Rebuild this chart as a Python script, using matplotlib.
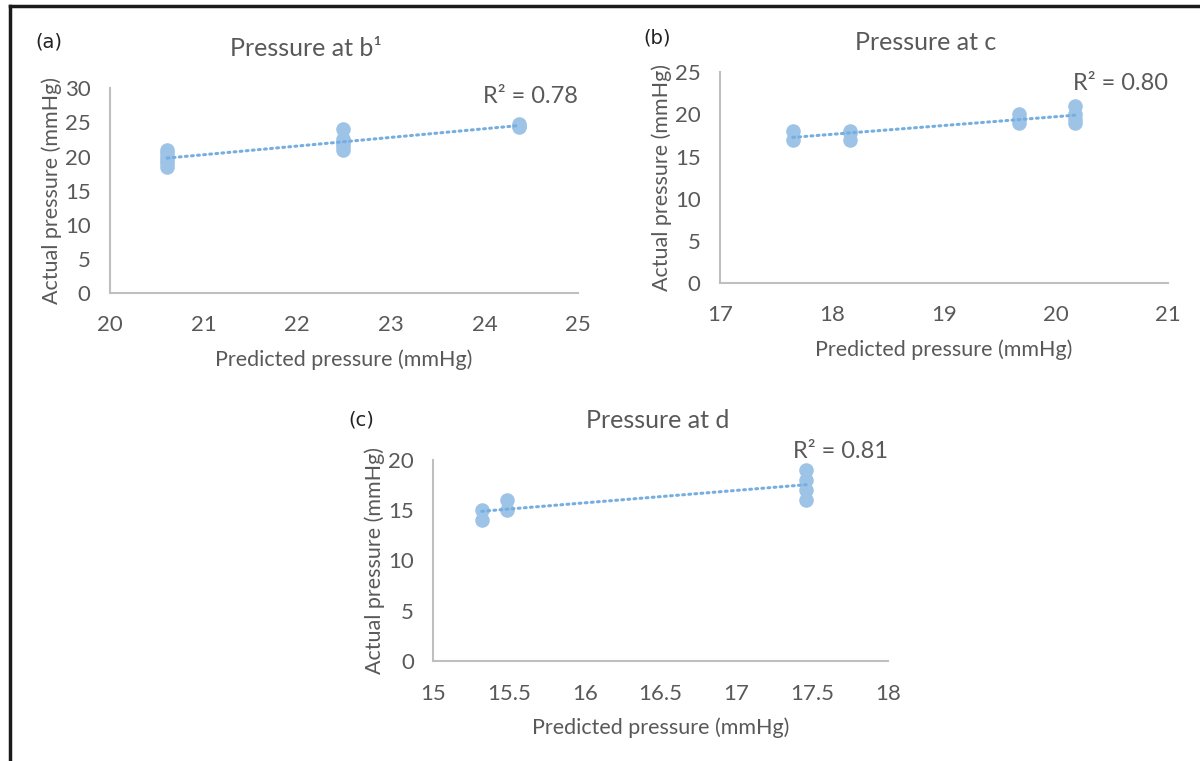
import numpy as np
import matplotlib.pyplot as plt
from matplotlib.lines import Line2D

plt.rcParams['font.family'] = ['Lato', 'DejaVu Sans']

# panel (a): pressure at b1
a_x = [20.61, 20.61, 20.61, 20.61, 20.61, 20.61, 22.49, 22.49, 22.49, 22.49, 22.49, 24.37, 24.37, 24.37]
a_y = [18.5, 19.0, 19.5, 20.0, 20.5, 21.0, 24.0, 22.5, 22.0, 21.5, 21.0, 24.3, 24.7, 24.5]
a_r2 = "0.78"

# panel (b): pressure at c
b_x = [17.65, 17.65, 18.16, 18.16, 18.16, 19.67, 19.67, 19.67, 20.17, 20.17, 20.17, 20.17]
b_y = [18.0, 17.0, 18.0, 17.8, 17.0, 20.0, 19.5, 19.0, 21.0, 20.0, 19.5, 19.0]
b_r2 = "0.80"

# panel (c): pressure at d
c_x = [15.32, 15.32, 15.49, 15.49, 17.46, 17.46, 17.46, 17.46]
c_y = [15.0, 14.0, 16.0, 15.0, 19.0, 18.0, 17.0, 16.0]
c_r2 = "0.81"

PT = '#9DC3E6'
LN = '#76AEE0'
TXT = '#595959'
AX = '#BFBFBF'

fig = plt.figure(figsize=(12, 7.61), dpi=100)


def panel(rect, xs, ys, xlim, xticks, ylim, yticks, title, title_x, title_y, r2, r2_y,
          xtickfmt=None):
    ax = fig.add_axes(rect)
    ax.scatter(xs, ys, s=110, color=PT, zorder=3, linewidths=0)
    k, b = np.polyfit(xs, ys, 1)
    xl = np.array([min(xs), max(xs)])
    ax.plot(xl, k * xl + b, color=LN, lw=2.2, linestyle=(0, (0.6, 1.4)),
            dash_capstyle='round', zorder=4)
    ax.set_xlim(*xlim)
    ax.set_ylim(*ylim)
    ax.set_xticks(xticks)
    ax.set_yticks(yticks)
    if xtickfmt:
        ax.set_xticklabels(xtickfmt)
    for s in ['top', 'right']:
        ax.spines[s].set_visible(False)
    for s in ['left', 'bottom']:
        ax.spines[s].set_color(AX)
        ax.spines[s].set_linewidth(1.5)
    ax.tick_params(length=0, labelsize=16, colors=TXT)
    ax.tick_params(axis='x', pad=16)
    ax.tick_params(axis='y', pad=14)
    ax.set_xlabel("Predicted pressure (mmHg)", fontsize=15.5, color=TXT, labelpad=10)
    ax.set_ylabel("Actual pressure (mmHg)", fontsize=15.5, color=TXT, labelpad=2)
    fig.text(title_x, title_y, title, fontsize=18, color=TXT, ha='center', va='center')
    ax.text(1.0, r2_y, "R² = " + r2, transform=ax.transAxes, ha='right', va='center',
            fontsize=17, color=TXT)
    return ax


axa = panel([0.0917, 0.615, 0.39, 0.269], a_x, a_y, (20, 25), [20, 21, 22, 23, 24, 25],
            (0, 30), [0, 5, 10, 15, 20, 25, 30], "Pressure at b¹", 0.255, 1 - 48 / 761,
            a_r2, 0.96)
axb = panel([0.6, 0.628, 0.373, 0.277], b_x, b_y, (17, 21), [17, 18, 19, 20, 21],
            (0, 25), [0, 5, 10, 15, 20, 25], "Pressure at c", 0.771, 1 - 42 / 761,
            b_r2, 0.948)
axc = panel([0.361, 0.131, 0.379, 0.265], c_x, c_y, (15, 18), [15, 15.5, 16, 16.5, 17, 17.5, 18],
            (0, 20), [0, 5, 10, 15, 20], "Pressure at d", 0.548, 1 - 421 / 761,
            c_r2, 1.04, xtickfmt=['15', '15.5', '16', '16.5', '17', '17.5', '18'])

# panel tags
for tag, tx, ty in [("(a)", 35, 42), ("(b)", 643, 38), ("(c)", 348, 420)]:
    fig.text(tx / 1200, 1 - ty / 761, tag, fontsize=14, color='#222222',
             family='DejaVu Sans', ha='left', va='center')

# frame lines on top and left edge
fig.add_artist(Line2D([0.008, 1.0], [0.992, 0.992], color='#1a1a1a', lw=2.5, transform=fig.transFigure))
fig.add_artist(Line2D([0.008, 0.008], [0.0, 0.992], color='#1a1a1a', lw=2.5, transform=fig.transFigure))

fig.savefig("out.png", dpi=100, facecolor='white')
